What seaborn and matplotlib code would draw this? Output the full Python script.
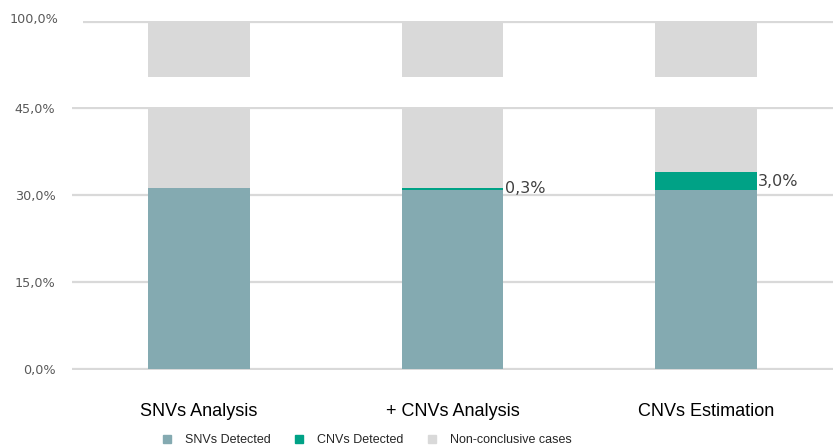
import matplotlib
matplotlib.use("Agg")
import matplotlib.pyplot as plt
import matplotlib.transforms as mtransforms
from matplotlib.lines import Line2D
import numpy as np
import seaborn as sns

# Detection rates per analysis strategy (percent of cases)
categories = ["SNVs Analysis", "+ CNVs Analysis", "CNVs Estimation"]
snv_detected = [31.2, 30.9, 30.9]
cnv_detected = [0.0, 0.3, 3.0]
non_conclusive = [68.8, 68.8, 66.1]
value_labels = ["", "0,3%", "3,0%"]

series_names = ["SNVs Detected", "CNVs Detected", "Non-conclusive cases"]
lower_ticks = [0, 15, 30, 45]
lower_tick_labels = ["0,0%", "15,0%", "30,0%", "45,0%"]
upper_ticks = [100]
upper_tick_labels = ["100,0%"]

TEAL = "#84AAB1"
GREEN = "#00A286"
GREY = "#D9D9D9"

sns.set_theme(style="white")
plt.rcParams["font.family"] = ["DejaVu Sans"]

W, H = 834, 447
fig = plt.figure(figsize=(W / 100, H / 100), dpi=100)


def box(left, top, right, bottom):
    return [left / W, 1 - bottom / H, (right - left) / W, (bottom - top) / H]


# Broken value axis: lower panel 0-45 %, upper panel near 100 %
ax = fig.add_axes(box(72, 107, 833, 370))
ax_top = fig.add_axes(box(83, 21, 833, 77))

snv = np.array(snv_detected)
cnv = np.array(cnv_detected)
nc = np.array(non_conclusive)
layers = [
    (snv + cnv + nc, GREY),
    (snv + cnv, GREEN),
    (snv, TEAL),
]

for a in (ax, ax_top):
    for heights, col in layers:
        sns.barplot(x=categories, y=heights, color=col, saturation=1,
                    width=0.4, linewidth=0, edgecolor="none", ax=a, zorder=2)
    for s in a.spines.values():
        s.set_visible(False)
    a.yaxis.grid(True, color=GREY, linewidth=1.6, zorder=0)
    a.set_axisbelow(True)
    a.set_ylabel("")

slot = (833 - 72) / 3
ax.set_xlim(-0.5, 2.5)
ax_top.set_xlim(-0.5 + (83 - 72) / slot, 2.5)

ax.set_ylim(-0.15, 45.15)
ax.set_yticks(lower_ticks)
ax.set_yticklabels(lower_tick_labels)
ax.tick_params(axis="y", length=0, pad=12, labelsize=9.2, labelcolor="#595959")
ax.tick_params(axis="x", length=0, pad=24, labelsize=13, labelcolor="black")
for t in ax.get_xticklabels():
    t.set_fontfamily("Liberation Sans")

ax_top.set_ylim(90.4, 100.15)
ax_top.set_yticks(upper_ticks)
ax_top.set_yticklabels(upper_tick_labels)
ax_top.tick_params(axis="y", length=0, pad=18, labelsize=9.2, labelcolor="#595959")
ax_top.set_xticks([])
ax_top.set_xlabel("")
lift = mtransforms.ScaledTranslation(0, 4 / 100, fig.dpi_scale_trans)
for t in ax_top.get_yticklabels():
    t.set_transform(t.get_transform() + lift)

# Value labels beside the CNV segment
for i, lab in enumerate(value_labels):
    if lab:
        ax.text(i + 0.205, snv[i] + cnv[i] / 2, lab, ha="left", va="center",
                fontsize=11.5, color="#404040", zorder=5)

handles = [Line2D([], [], marker="s", linestyle="none", markersize=5.8,
                  markerfacecolor=c, markeredgecolor=c)
           for c in (TEAL, GREEN, GREY)]
fig.legend(handles, series_names, loc="center",
           bbox_to_anchor=(366 / W, 1 - 440 / H), ncol=3, frameon=False,
           prop={"family": "Liberation Sans", "size": 9},
           handlelength=1.0, handletextpad=0.95, columnspacing=1.75,
           borderpad=0, borderaxespad=0)

fig.savefig("out.png", dpi=100)
